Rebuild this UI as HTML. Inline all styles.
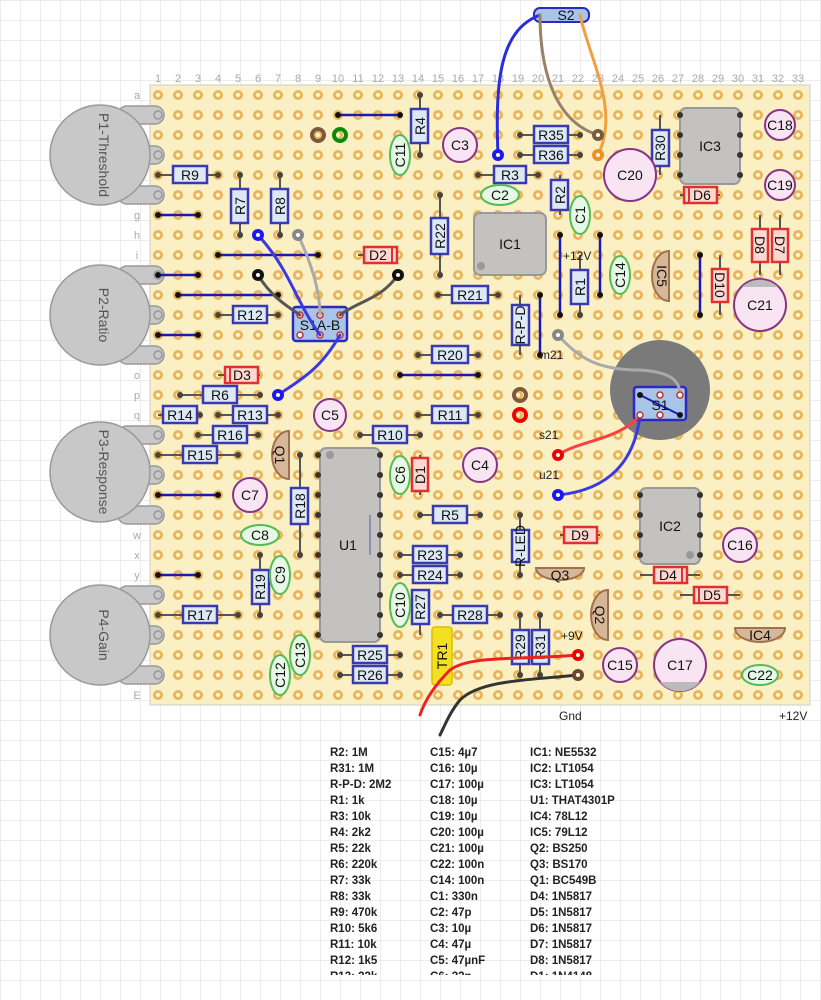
<!DOCTYPE html>
<html><head><meta charset="utf-8"><style>
html,body{margin:0;padding:0;background:#fff;}
svg{display:block;font-family:"Liberation Sans",sans-serif;}
.r{fill:#dce8f4;stroke:#3a3ab0;stroke-width:2.5}
.rt{font-size:14px;fill:#111;text-anchor:middle;dominant-baseline:central}
.ld{stroke:#555;stroke-width:2}
.c{fill:#e6f8e6;stroke:#55bb55;stroke-width:2}
.e{fill:#f8e4f2;stroke:#883388;stroke-width:2}
.d{fill:#fcd8d0;stroke:#e03030;stroke-width:2.5}
.ic{fill:#c4c2be;stroke:#999;stroke-width:2}
.q{fill:#d6b898;stroke:#a07050;stroke-width:2}
.w{stroke:#1a1ab0;stroke-width:2.5}
.lg{font-size:11.5px;font-weight:bold;fill:#222}
.num{font-size:11px;fill:#aaa;text-anchor:middle}
</style></head><body>
<svg width="821" height="1000" viewBox="0 0 821 1000" xmlns="http://www.w3.org/2000/svg">
<defs>
<pattern id="g" x="0" y="0" width="20" height="20" patternUnits="userSpaceOnUse"><path d="M0 0.5H20M0.5 0V20" stroke="#ececec" stroke-width="1" fill="none"/></pattern>
<pattern id="h" x="148" y="85" width="20" height="20" patternUnits="userSpaceOnUse"><circle cx="10" cy="10" r="5" fill="#eab556"/><circle cx="10" cy="10" r="2.2" fill="#fdf4d8"/></pattern>
</defs>
<rect width="821" height="1000" fill="url(#g)"/>
<rect x="150" y="85" width="660" height="620" fill="#fbf0c4" stroke="#ccc"/>
<rect x="150" y="85" width="660" height="620" fill="url(#h)"/>

<g class="num">
<text x="158" y="82">1</text><text x="178" y="82">2</text><text x="198" y="82">3</text><text x="218" y="82">4</text><text x="238" y="82">5</text><text x="258" y="82">6</text><text x="278" y="82">7</text><text x="298" y="82">8</text><text x="318" y="82">9</text><text x="338" y="82">10</text><text x="358" y="82">11</text><text x="378" y="82">12</text><text x="398" y="82">13</text><text x="418" y="82">14</text><text x="438" y="82">15</text><text x="458" y="82">16</text><text x="478" y="82">17</text><text x="498" y="82">18</text><text x="518" y="82">19</text><text x="538" y="82">20</text><text x="558" y="82">21</text><text x="578" y="82">22</text><text x="598" y="82">23</text><text x="618" y="82">24</text><text x="638" y="82">25</text><text x="658" y="82">26</text><text x="678" y="82">27</text><text x="698" y="82">28</text><text x="718" y="82">29</text><text x="738" y="82">30</text><text x="758" y="82">31</text><text x="778" y="82">32</text><text x="798" y="82">33</text>
</g>
<g class="num">
<text x="137" y="99">a</text><text x="137" y="119">b</text><text x="137" y="139">c</text><text x="137" y="159">d</text><text x="137" y="179">e</text><text x="137" y="199">f</text><text x="137" y="219">g</text><text x="137" y="239">h</text><text x="137" y="259">i</text><text x="137" y="279">j</text><text x="137" y="299">k</text><text x="137" y="319">l</text><text x="137" y="339">m</text><text x="137" y="359">n</text><text x="137" y="379">o</text><text x="137" y="399">p</text><text x="137" y="419">q</text><text x="137" y="439">r</text><text x="137" y="459">s</text><text x="137" y="479">t</text><text x="137" y="499">u</text><text x="137" y="519">v</text><text x="137" y="539">w</text><text x="137" y="559">x</text><text x="137" y="579">y</text><text x="137" y="599">z</text><text x="137" y="619">A</text><text x="137" y="639">B</text><text x="137" y="659">C</text><text x="137" y="679">D</text><text x="137" y="699">E</text>
</g>

<g fill="#c8c8c8" stroke="#999" stroke-width="1.5">
<rect x="118" y="106" width="46" height="18" rx="9"/><rect x="118" y="146" width="46" height="18" rx="9"/><rect x="118" y="186" width="46" height="18" rx="9"/>
<circle cx="100" cy="155" r="50"/>
<rect x="118" y="266" width="46" height="18" rx="9"/><rect x="118" y="306" width="46" height="18" rx="9"/><rect x="118" y="346" width="46" height="18" rx="9"/>
<circle cx="100" cy="315" r="50"/>
<rect x="118" y="426" width="46" height="18" rx="9"/><rect x="118" y="466" width="46" height="18" rx="9"/><rect x="118" y="506" width="46" height="18" rx="9"/>
<circle cx="100" cy="472" r="50"/>
<rect x="118" y="586" width="46" height="18" rx="9"/><rect x="118" y="626" width="46" height="18" rx="9"/><rect x="118" y="666" width="46" height="18" rx="9"/>
<circle cx="100" cy="635" r="50"/>
</g>
<g fill="none" stroke="#999" stroke-width="1.5"><circle cx="158" cy="115" r="4"/><circle cx="158" cy="155" r="4"/><circle cx="158" cy="195" r="4"/><circle cx="158" cy="275" r="4"/><circle cx="158" cy="315" r="4"/><circle cx="158" cy="355" r="4"/><circle cx="158" cy="435" r="4"/><circle cx="158" cy="475" r="4"/><circle cx="158" cy="515" r="4"/><circle cx="158" cy="595" r="4"/><circle cx="158" cy="635" r="4"/><circle cx="158" cy="675" r="4"/></g>
<g font-size="14" fill="#555" text-anchor="middle">
<text transform="translate(104,155) rotate(90)" dominant-baseline="central">P1-Threshold</text>
<text transform="translate(104,315) rotate(90)" dominant-baseline="central">P2-Ratio</text>
<text transform="translate(104,472) rotate(90)" dominant-baseline="central">P3-Response</text>
<text transform="translate(104,635) rotate(90)" dominant-baseline="central">P4-Gain</text>
</g>

<g class="w">
<line x1="338" y1="115" x2="400" y2="115"/>
<line x1="158" y1="215" x2="198" y2="215"/>
<line x1="218" y1="255" x2="318" y2="255"/>
<line x1="158" y1="275" x2="198" y2="275"/>
<line x1="178" y1="295" x2="278" y2="295"/>
<line x1="158" y1="335" x2="198" y2="335"/>
<line x1="400" y1="375" x2="478" y2="375"/>
<line x1="158" y1="495" x2="218" y2="495"/>
<line x1="158" y1="575" x2="198" y2="575"/>
<line x1="540" y1="295" x2="540" y2="355"/>
<line x1="560" y1="235" x2="560" y2="315"/>
<line x1="600" y1="235" x2="600" y2="295"/>
<line x1="700" y1="255" x2="700" y2="315"/>
</g>
<g fill="#111">
<circle cx="338" cy="115" r="3"/><circle cx="400" cy="115" r="3"/><circle cx="158" cy="215" r="3"/><circle cx="198" cy="215" r="3"/><circle cx="218" cy="255" r="3"/><circle cx="318" cy="255" r="3"/><circle cx="158" cy="275" r="3"/><circle cx="198" cy="275" r="3"/><circle cx="178" cy="295" r="3"/><circle cx="278" cy="295" r="3"/><circle cx="158" cy="335" r="3"/><circle cx="198" cy="335" r="3"/><circle cx="400" cy="375" r="3"/><circle cx="478" cy="375" r="3"/><circle cx="158" cy="495" r="3"/><circle cx="218" cy="495" r="3"/><circle cx="158" cy="575" r="3"/><circle cx="198" cy="575" r="3"/><circle cx="540" cy="295" r="3"/><circle cx="540" cy="355" r="3"/><circle cx="560" cy="235" r="3"/><circle cx="560" cy="315" r="3"/><circle cx="600" cy="235" r="3"/><circle cx="600" cy="295" r="3"/><circle cx="700" cy="255" r="3"/><circle cx="700" cy="315" r="3"/>
</g>

<g class="ld">
<line x1="158" y1="175" x2="218" y2="175"/>
<line x1="240" y1="175" x2="240" y2="235"/>
<line x1="280" y1="175" x2="280" y2="235"/>
<line x1="420" y1="95" x2="420" y2="155"/>
<line x1="520" y1="135" x2="580" y2="135"/>
<line x1="520" y1="155" x2="580" y2="155"/>
<line x1="478" y1="175" x2="538" y2="175"/>
<line x1="660" y1="115" x2="660" y2="175"/>
<line x1="560" y1="175" x2="560" y2="215"/>
<line x1="440" y1="195" x2="440" y2="275"/>
<line x1="438" y1="295" x2="498" y2="295"/>
<line x1="580" y1="255" x2="580" y2="315"/>
<line x1="520" y1="295" x2="520" y2="355"/>
<line x1="218" y1="315" x2="278" y2="315"/>
<line x1="418" y1="355" x2="478" y2="355"/>
<line x1="180" y1="395" x2="260" y2="395"/>
<line x1="158" y1="415" x2="200" y2="415"/>
<line x1="218" y1="415" x2="278" y2="415"/>
<line x1="418" y1="415" x2="478" y2="415"/>
<line x1="198" y1="435" x2="258" y2="435"/>
<line x1="360" y1="435" x2="420" y2="435"/>
<line x1="158" y1="455" x2="238" y2="455"/>
<line x1="300" y1="455" x2="300" y2="555"/>
<line x1="420" y1="515" x2="480" y2="515"/>
<line x1="400" y1="555" x2="460" y2="555"/>
<line x1="400" y1="575" x2="460" y2="575"/>
<line x1="520" y1="515" x2="520" y2="575"/>
<line x1="260" y1="555" x2="260" y2="615"/>
<line x1="158" y1="615" x2="238" y2="615"/>
<line x1="420" y1="595" x2="420" y2="635"/>
<line x1="440" y1="615" x2="500" y2="615"/>
<line x1="520" y1="615" x2="520" y2="675"/>
<line x1="540" y1="615" x2="540" y2="675"/>
<line x1="340" y1="655" x2="400" y2="655"/>
<line x1="340" y1="675" x2="400" y2="675"/>
</g>
<g fill="#444">
<circle cx="158" cy="175" r="3"/><circle cx="218" cy="175" r="3"/><circle cx="240" cy="175" r="3"/><circle cx="240" cy="235" r="3"/><circle cx="280" cy="175" r="3"/><circle cx="280" cy="235" r="3"/><circle cx="420" cy="95" r="3"/><circle cx="420" cy="155" r="3"/><circle cx="520" cy="135" r="3"/><circle cx="580" cy="135" r="3"/><circle cx="520" cy="155" r="3"/><circle cx="580" cy="155" r="3"/><circle cx="478" cy="175" r="3"/><circle cx="538" cy="175" r="3"/><circle cx="440" cy="195" r="3"/><circle cx="440" cy="275" r="3"/><circle cx="438" cy="295" r="3"/><circle cx="498" cy="295" r="3"/><circle cx="580" cy="315" r="3"/><circle cx="218" cy="315" r="3"/><circle cx="278" cy="315" r="3"/><circle cx="418" cy="355" r="3"/><circle cx="478" cy="355" r="3"/><circle cx="180" cy="395" r="3"/><circle cx="260" cy="395" r="3"/><circle cx="200" cy="415" r="3"/><circle cx="218" cy="415" r="3"/><circle cx="278" cy="415" r="3"/><circle cx="418" cy="415" r="3"/><circle cx="478" cy="415" r="3"/><circle cx="198" cy="435" r="3"/><circle cx="258" cy="435" r="3"/><circle cx="360" cy="435" r="3"/><circle cx="420" cy="435" r="3"/><circle cx="158" cy="455" r="3"/><circle cx="238" cy="455" r="3"/><circle cx="300" cy="455" r="3"/><circle cx="300" cy="555" r="3"/><circle cx="420" cy="515" r="3"/><circle cx="480" cy="515" r="3"/><circle cx="400" cy="555" r="3"/><circle cx="460" cy="555" r="3"/><circle cx="400" cy="575" r="3"/><circle cx="460" cy="575" r="3"/><circle cx="520" cy="515" r="3"/><circle cx="520" cy="575" r="3"/><circle cx="260" cy="555" r="3"/><circle cx="260" cy="615" r="3"/><circle cx="158" cy="615" r="3"/><circle cx="238" cy="615" r="3"/><circle cx="440" cy="615" r="3"/><circle cx="500" cy="615" r="3"/><circle cx="520" cy="615" r="3"/><circle cx="520" cy="675" r="3"/><circle cx="540" cy="615" r="3"/><circle cx="540" cy="675" r="3"/><circle cx="340" cy="655" r="3"/><circle cx="400" cy="655" r="3"/><circle cx="340" cy="675" r="3"/><circle cx="400" cy="675" r="3"/>
</g>

<rect class="ic" x="474" y="213" width="72" height="62" rx="6"/><circle cx="481" cy="266" r="4" fill="#999"/>
<text class="rt" x="510" y="244">IC1</text>
<rect class="ic" x="680" y="108" width="60" height="76" rx="6"/>
<text class="rt" x="710" y="146">IC3</text>
<rect class="ic" x="640" y="488" width="60" height="76" rx="6"/><circle cx="690" cy="555" r="4" fill="#999"/>
<text class="rt" x="670" y="526">IC2</text>
<rect class="ic" x="320" y="448" width="60" height="194" rx="6"/><circle cx="330" cy="455" r="4" fill="#999"/>
<line x1="370" y1="515" x2="370" y2="555" stroke="#7a7ab8" stroke-width="1.5"/>
<text class="rt" x="348" y="545">U1</text>
<g fill="#333">
<circle cx="318" cy="455" r="3"/><circle cx="318" cy="475" r="3"/><circle cx="318" cy="495" r="3"/><circle cx="318" cy="515" r="3"/><circle cx="318" cy="535" r="3"/><circle cx="318" cy="555" r="3"/><circle cx="318" cy="575" r="3"/><circle cx="318" cy="595" r="3"/><circle cx="318" cy="615" r="3"/><circle cx="318" cy="635" r="3"/>
<circle cx="380" cy="455" r="3"/><circle cx="380" cy="475" r="3"/><circle cx="380" cy="495" r="3"/><circle cx="380" cy="515" r="3"/><circle cx="380" cy="535" r="3"/><circle cx="380" cy="555" r="3"/><circle cx="380" cy="575" r="3"/><circle cx="380" cy="595" r="3"/><circle cx="380" cy="615" r="3"/><circle cx="380" cy="635" r="3"/>
<circle cx="640" cy="495" r="3"/><circle cx="640" cy="515" r="3"/><circle cx="640" cy="535" r="3"/><circle cx="640" cy="555" r="3"/><circle cx="700" cy="495" r="3"/><circle cx="700" cy="515" r="3"/><circle cx="700" cy="535" r="3"/><circle cx="700" cy="555" r="3"/>
<circle cx="680" cy="115" r="3"/><circle cx="680" cy="135" r="3"/><circle cx="680" cy="155" r="3"/><circle cx="680" cy="175" r="3"/><circle cx="740" cy="115" r="3"/><circle cx="740" cy="135" r="3"/><circle cx="740" cy="155" r="3"/><circle cx="740" cy="175" r="3"/>
</g>

<rect class="r" x="173" y="166" width="34" height="17"/><text class="rt" x="190" y="175">R9</text>
<rect class="r" x="231" y="189" width="17" height="34"/><text class="rt" transform="translate(240,206) rotate(-90)">R7</text>
<rect class="r" x="271" y="189" width="17" height="34"/><text class="rt" transform="translate(280,206) rotate(-90)">R8</text>
<rect class="r" x="411" y="109" width="17" height="34"/><text class="rt" transform="translate(420,126) rotate(-90)">R4</text>
<rect class="r" x="534" y="126" width="34" height="17"/><text class="rt" x="551" y="135">R35</text>
<rect class="r" x="534" y="146" width="34" height="17"/><text class="rt" x="551" y="155">R36</text>
<rect class="r" x="494" y="166" width="32" height="17"/><text class="rt" x="510" y="175">R3</text>
<rect class="r" x="652" y="130" width="17" height="36"/><text class="rt" transform="translate(660,148) rotate(-90)">R30</text>
<rect class="r" x="551" y="180" width="17" height="30"/><text class="rt" transform="translate(560,195) rotate(-90)">R2</text>
<rect class="r" x="431" y="218" width="17" height="36"/><text class="rt" transform="translate(440,236) rotate(-90)">R22</text>
<rect class="r" x="452" y="286" width="36" height="17"/><text class="rt" x="470" y="295">R21</text>
<rect class="r" x="571" y="270" width="17" height="34"/><text class="rt" transform="translate(580,287) rotate(-90)">R1</text>
<rect class="r" x="512" y="305" width="17" height="40"/><text class="rt" font-size="11" transform="translate(520,325) rotate(-90)">R-P-D</text>
<rect class="r" x="233" y="306" width="34" height="17"/><text class="rt" x="250" y="315">R12</text>
<rect class="r" x="432" y="346" width="36" height="17"/><text class="rt" x="450" y="355">R20</text>
<rect class="r" x="203" y="386" width="34" height="17"/><text class="rt" x="220" y="395">R6</text>
<rect class="r" x="163" y="406" width="34" height="17"/><text class="rt" x="180" y="415">R14</text>
<rect class="r" x="233" y="406" width="34" height="17"/><text class="rt" x="250" y="415">R13</text>
<rect class="r" x="432" y="406" width="36" height="17"/><text class="rt" x="450" y="415">R11</text>
<rect class="r" x="213" y="426" width="34" height="17"/><text class="rt" x="230" y="435">R16</text>
<rect class="r" x="373" y="426" width="34" height="17"/><text class="rt" x="390" y="435">R10</text>
<rect class="r" x="183" y="446" width="34" height="17"/><text class="rt" x="200" y="455">R15</text>
<rect class="r" x="291" y="488" width="17" height="36"/><text class="rt" transform="translate(300,506) rotate(-90)">R18</text>
<rect class="r" x="433" y="506" width="34" height="17"/><text class="rt" x="450" y="515">R5</text>
<rect class="r" x="413" y="546" width="34" height="17"/><text class="rt" x="430" y="555">R23</text>
<rect class="r" x="413" y="566" width="34" height="17"/><text class="rt" x="430" y="575">R24</text>
<rect class="r" x="512" y="530" width="17" height="32"/><text class="rt" font-size="11" transform="translate(520,546) rotate(-90)">R-LED</text>
<rect class="r" x="252" y="570" width="17" height="34"/><text class="rt" transform="translate(260,587) rotate(-90)">R19</text>
<rect class="r" x="183" y="606" width="34" height="17"/><text class="rt" x="200" y="615">R17</text>
<rect class="r" x="412" y="590" width="17" height="34"/><text class="rt" transform="translate(420,607) rotate(-90)">R27</text>
<rect class="r" x="453" y="606" width="34" height="17"/><text class="rt" x="470" y="615">R28</text>
<rect class="r" x="512" y="630" width="17" height="34"/><text class="rt" transform="translate(520,647) rotate(-90)">R29</text>
<rect class="r" x="532" y="630" width="17" height="34"/><text class="rt" transform="translate(540,647) rotate(-90)">R31</text>
<rect class="r" x="353" y="646" width="34" height="17"/><text class="rt" x="370" y="655">R25</text>
<rect class="r" x="353" y="666" width="34" height="17"/><text class="rt" x="370" y="675">R26</text>

<g class="ld"><line x1="358" y1="255" x2="398" y2="255"/><line x1="218" y1="375" x2="260" y2="375"/><line x1="420" y1="455" x2="420" y2="495"/><line x1="680" y1="195" x2="720" y2="195"/><line x1="760" y1="215" x2="760" y2="275"/><line x1="780" y1="215" x2="780" y2="275"/><line x1="720" y1="255" x2="720" y2="315"/><line x1="560" y1="535" x2="600" y2="535"/><line x1="640" y1="575" x2="700" y2="575"/><line x1="680" y1="595" x2="740" y2="595"/></g>
<rect class="d" x="364" y="247" width="33" height="16"/><line x1="392" y1="247" x2="392" y2="263" stroke="#e03030" stroke-width="2"/><text class="rt" x="378" y="255">D2</text>
<rect class="d" x="225" y="367" width="33" height="16"/><line x1="230" y1="367" x2="230" y2="383" stroke="#e03030" stroke-width="2"/><text class="rt" x="242" y="375">D3</text>
<rect class="d" x="412" y="458" width="16" height="33"/><text class="rt" transform="translate(420,475) rotate(-90)">D1</text>
<rect class="d" x="684" y="187" width="33" height="16"/><line x1="689" y1="187" x2="689" y2="203" stroke="#e03030" stroke-width="2"/><text class="rt" x="702" y="195">D6</text>
<rect class="d" x="752" y="229" width="16" height="33"/><text class="rt" transform="translate(760,245) rotate(90)">D8</text>
<rect class="d" x="772" y="229" width="16" height="33"/><text class="rt" transform="translate(780,245) rotate(90)">D7</text>
<rect class="d" x="712" y="269" width="16" height="33"/><text class="rt" transform="translate(720,285) rotate(90)">D10</text>
<rect class="d" x="564" y="527" width="33" height="16"/><text class="rt" x="580" y="535">D9</text>
<rect class="d" x="654" y="567" width="33" height="16"/><line x1="682" y1="567" x2="682" y2="583" stroke="#e03030" stroke-width="2"/><text class="rt" x="668" y="575">D4</text>
<rect class="d" x="694" y="587" width="33" height="16"/><line x1="699" y1="587" x2="699" y2="603" stroke="#e03030" stroke-width="2"/><text class="rt" x="712" y="595">D5</text>

<ellipse class="c" cx="400" cy="155" rx="10" ry="20"/><text class="rt" transform="translate(400,155) rotate(-90)">C11</text>
<ellipse class="c" cx="500" cy="195" rx="19" ry="10"/><text class="rt" x="500" y="195">C2</text>
<ellipse class="c" cx="580" cy="215" rx="10" ry="19"/><text class="rt" transform="translate(580,215) rotate(-90)">C1</text>
<ellipse class="c" cx="620" cy="275" rx="10" ry="19"/><text class="rt" transform="translate(620,275) rotate(-90)">C14</text>
<ellipse class="c" cx="400" cy="475" rx="10" ry="19"/><text class="rt" transform="translate(400,475) rotate(-90)">C6</text>
<ellipse class="c" cx="260" cy="535" rx="19" ry="10"/><text class="rt" x="260" y="535">C8</text>
<ellipse class="c" cx="280" cy="575" rx="10" ry="19"/><text class="rt" transform="translate(280,575) rotate(-90)">C9</text>
<ellipse class="c" cx="400" cy="605" rx="10" ry="22"/><text class="rt" transform="translate(400,605) rotate(-90)">C10</text>
<ellipse class="c" cx="300" cy="655" rx="10" ry="20"/><text class="rt" transform="translate(300,655) rotate(-90)">C13</text>
<ellipse class="c" cx="280" cy="675" rx="10" ry="20"/><text class="rt" transform="translate(280,675) rotate(-90)">C12</text>
<ellipse class="c" cx="760" cy="675" rx="18" ry="10"/><text class="rt" x="760" y="675">C22</text>

<circle class="e" cx="460" cy="145" r="17"/><text class="rt" x="460" y="145">C3</text>
<circle class="e" cx="780" cy="125" r="15"/><text class="rt" font-size="12" x="780" y="125">C18</text>
<circle class="e" cx="780" cy="185" r="15"/><text class="rt" font-size="12" x="780" y="185">C19</text>
<circle class="e" cx="630" cy="175" r="26"/><text class="rt" x="630" y="175">C20</text>
<circle class="e" cx="760" cy="305" r="26"/><path d="M742 287 A26 26 0 0 1 778 287Z" fill="#bbb"/><text class="rt" x="760" y="305">C21</text>
<circle class="e" cx="330" cy="415" r="16"/><text class="rt" x="330" y="415">C5</text>
<circle class="e" cx="480" cy="465" r="17"/><text class="rt" x="480" y="465">C4</text>
<circle class="e" cx="250" cy="495" r="17"/><text class="rt" x="250" y="495">C7</text>
<circle class="e" cx="740" cy="545" r="17"/><text class="rt" font-size="12" x="740" y="545">C16</text>
<circle class="e" cx="620" cy="665" r="17"/><text class="rt" font-size="12" x="620" y="665">C15</text>
<circle class="e" cx="680" cy="665" r="26"/><path d="M660 682 A26 26 0 0 0 700 682Z" fill="#bbb"/><text class="rt" x="680" y="665">C17</text>

<path class="q" d="M289 431 A17 24 0 0 0 289 479 Z"/><text class="rt" transform="translate(280,455) rotate(90)">Q1</text>
<path class="q" d="M669 251 A17 25 0 0 0 669 301 Z"/><text class="rt" transform="translate(662,276) rotate(90)">IC5</text>
<path class="q" d="M536 568 A24 12 0 0 0 584 568 Z"/><text class="rt" x="560" y="575">Q3</text>
<path class="q" d="M608 590 A17 25 0 0 0 608 640 Z"/><text class="rt" transform="translate(600,615) rotate(90)">Q2</text>
<path class="q" d="M735 628 A25 14 0 0 0 785 628 Z"/><text class="rt" x="760" y="635">IC4</text>
<rect x="432" y="627" width="20" height="58" rx="3" fill="#f4e020" stroke="#d8c000" stroke-width="1.5"/><text class="rt" transform="translate(442,656) rotate(-90)">TR1</text>

<circle cx="318" cy="135" r="6" fill="none" stroke="#7a5a3a" stroke-width="4"/>
<circle cx="340" cy="135" r="6" fill="none" stroke="#0a8a0a" stroke-width="4"/>
<circle cx="520" cy="395" r="6" fill="none" stroke="#7a5a3a" stroke-width="4"/>
<circle cx="520" cy="415" r="6" fill="none" stroke="#ee0000" stroke-width="4"/>

<circle cx="660" cy="390" r="50" fill="#7a7a7a"/>
<rect x="634" y="387" width="52" height="33" rx="3" fill="#a8c4e8" stroke="#2a2ac0" stroke-width="2.5"/>
<line x1="640" y1="395" x2="680" y2="415" stroke="#1a1ab0" stroke-width="2"/>
<text class="rt" x="660" y="405">S1</text>
<rect x="293" y="307" width="54" height="34" rx="3" fill="#a8c4e8" stroke="#2a2ac0" stroke-width="2.5"/>
<text class="rt" x="320" y="325">S1A-B</text>
<g fill="#fff" stroke="#c03030" stroke-width="1.5"><circle cx="300" cy="315" r="3"/><circle cx="320" cy="315" r="3"/><circle cx="340" cy="315" r="3"/><circle cx="300" cy="335" r="3"/><circle cx="320" cy="335" r="3"/><circle cx="340" cy="335" r="3"/></g>
<rect x="534" y="8" width="55" height="14" rx="6" fill="#a8c4e8" stroke="#2a2ac0" stroke-width="2"/>
<text class="rt" x="566" y="15">S2</text>

<g fill="none" stroke-linecap="round">
<path d="M540 15 C500 30 495 80 498 155" stroke="#2a2ae0" stroke-width="3"/>
<path d="M540 15 C540 60 550 120 598 135" stroke="#9a8068" stroke-width="3"/>
<path d="M580 15 C590 60 620 110 598 155" stroke="#f0a040" stroke-width="3"/>
<path d="M258 235 C290 270 295 300 320 335" stroke="#3a3ae0" stroke-width="3"/>
<path d="M298 235 C310 260 320 290 320 315" stroke="#aaa" stroke-width="3"/>
<path d="M258 275 C270 295 285 305 300 315" stroke="#555" stroke-width="3"/>
<path d="M398 275 C380 300 360 300 340 315" stroke="#555" stroke-width="3"/>
<path d="M340 335 C320 370 300 380 278 395" stroke="#3a3ae0" stroke-width="3"/>
<path d="M558 335 C580 360 600 370 640 370 C670 372 680 380 680 395" stroke="#aaa" stroke-width="3"/>
<path d="M558 455 C580 440 620 440 640 415" stroke="#ff4040" stroke-width="3"/>
<path d="M558 495 C610 490 635 460 640 415" stroke="#3a3ae0" stroke-width="3"/>
<path d="M578 655 C520 660 470 655 450 670 C435 685 425 700 420 715" stroke="#ee2020" stroke-width="3"/>
<path d="M578 675 C530 680 480 680 460 700 C450 712 445 725 440 735" stroke="#333" stroke-width="3"/>
</g>
<circle cx="498" cy="155" r="6" fill="#1a1aee"/><circle cx="498" cy="155" r="2" fill="#fff"/>
<circle cx="598" cy="135" r="6" fill="#7a5a3a"/><circle cx="598" cy="135" r="2" fill="#fff"/>
<circle cx="598" cy="155" r="6" fill="#f09020"/><circle cx="598" cy="155" r="2" fill="#fff"/>
<circle cx="258" cy="235" r="6" fill="#1a1aee"/><circle cx="258" cy="235" r="2" fill="#fff"/>
<circle cx="298" cy="235" r="6" fill="#888"/><circle cx="298" cy="235" r="2" fill="#fff"/>
<circle cx="258" cy="275" r="6" fill="#111"/><circle cx="258" cy="275" r="2" fill="#fff"/>
<circle cx="398" cy="275" r="6" fill="#111"/><circle cx="398" cy="275" r="2" fill="#fff"/>
<circle cx="278" cy="395" r="6" fill="#1a1aee"/><circle cx="278" cy="395" r="2" fill="#fff"/>
<circle cx="558" cy="335" r="6" fill="#888"/><circle cx="558" cy="335" r="2" fill="#fff"/>
<circle cx="558" cy="455" r="6" fill="#ee0000"/><circle cx="558" cy="455" r="2" fill="#fff"/>
<circle cx="558" cy="495" r="6" fill="#1a1aee"/><circle cx="558" cy="495" r="2" fill="#fff"/>
<circle cx="578" cy="655" r="6" fill="#ee0000"/><circle cx="578" cy="655" r="2" fill="#fff"/>
<circle cx="578" cy="675" r="6" fill="#6a4a2a"/><circle cx="578" cy="675" r="2" fill="#fff"/>
<g fill="#fff" stroke="#c03030" stroke-width="1.5"><circle cx="660" cy="395" r="3"/><circle cx="680" cy="395" r="3"/><circle cx="640" cy="415" r="3"/><circle cx="660" cy="415" r="3"/></g>
<circle cx="640" cy="395" r="3" fill="#111"/><circle cx="680" cy="415" r="3" fill="#111"/>

<g font-size="12" fill="#222">
<text x="563" y="260">+12V</text>
<text x="540" y="359">m21</text>
<text x="539" y="439">s21</text>
<text x="539" y="479">u21</text>
<text x="561" y="640">+9V</text>
<text x="559" y="720">Gnd</text>
<text x="779" y="720">+12V</text>
</g>

<g class="lg">
<text x="330" y="756">R2: 1M</text><text x="330" y="772">R31: 1M</text><text x="330" y="788">R-P-D: 2M2</text><text x="330" y="804">R1: 1k</text><text x="330" y="820">R3: 10k</text><text x="330" y="836">R4: 2k2</text><text x="330" y="852">R5: 22k</text><text x="330" y="868">R6: 220k</text><text x="330" y="884">R7: 33k</text><text x="330" y="900">R8: 33k</text><text x="330" y="916">R9: 470k</text><text x="330" y="932">R10: 5k6</text><text x="330" y="948">R11: 10k</text><text x="330" y="964">R12: 1k5</text><text x="330" y="980">R13: 22k</text>
<text x="430" y="756">C15: 4µ7</text><text x="430" y="772">C16: 10µ</text><text x="430" y="788">C17: 100µ</text><text x="430" y="804">C18: 10µ</text><text x="430" y="820">C19: 10µ</text><text x="430" y="836">C20: 100µ</text><text x="430" y="852">C21: 100µ</text><text x="430" y="868">C22: 100n</text><text x="430" y="884">C14: 100n</text><text x="430" y="900">C1: 330n</text><text x="430" y="916">C2: 47p</text><text x="430" y="932">C3: 10µ</text><text x="430" y="948">C4: 47µ</text><text x="430" y="964">C5: 47µnF</text><text x="430" y="980">C6: 22n</text>
<text x="530" y="756">IC1: NE5532</text><text x="530" y="772">IC2: LT1054</text><text x="530" y="788">IC3: LT1054</text><text x="530" y="804">U1: THAT4301P</text><text x="530" y="820">IC4: 78L12</text><text x="530" y="836">IC5: 79L12</text><text x="530" y="852">Q2: BS250</text><text x="530" y="868">Q3: BS170</text><text x="530" y="884">Q1: BC549B</text><text x="530" y="900">D4: 1N5817</text><text x="530" y="916">D5: 1N5817</text><text x="530" y="932">D6: 1N5817</text><text x="530" y="948">D7: 1N5817</text><text x="530" y="964">D8: 1N5817</text><text x="530" y="980">D1: 1N4148</text>
</g>
<rect x="0" y="975" width="821" height="25" fill="#fff"/>
<rect x="0" y="975" width="821" height="25" fill="url(#g)"/>
</svg>
</body></html>
